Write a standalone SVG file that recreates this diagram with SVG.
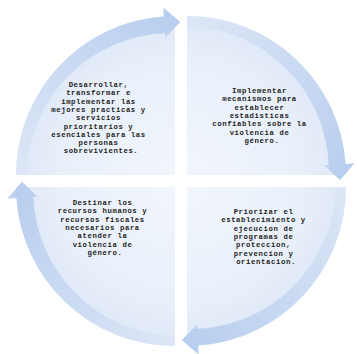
<svg xmlns="http://www.w3.org/2000/svg" xmlns:xlink="http://www.w3.org/1999/xlink" width="357" height="354" viewBox="0 0 357 354">
<style>
.lbl{font-family:"Liberation Mono","DejaVu Sans Mono",monospace;font-size:7.3px;font-weight:bold;letter-spacing:0.6px;fill:#1e1e1e;text-anchor:middle}
.wedge{fill:url(#wedgeFill)}
.band{fill:url(#bandFill)}
</style>
<defs>
<radialGradient id="wedgeFill" gradientUnits="userSpaceOnUse" cx="181" cy="181" r="160">
<stop offset="0" stop-color="#f2f6fc"/>
<stop offset="0.75" stop-color="#e9f0fa"/>
<stop offset="1" stop-color="#dfe8f7"/>
</radialGradient>
<linearGradient id="bandFill" gradientUnits="userSpaceOnUse" x1="20" y1="175" x2="170" y2="20">
<stop offset="0" stop-color="#dce6f6"/>
<stop offset="1" stop-color="#b9cfef"/>
</linearGradient>
<path id="wedgeShape" class="wedge" d="M175,175 L16,175 A159,159 0 0 1 175,16 Z"/>
<path id="bandShape" class="band" d="M16,175 A159,159 0 0 1 163.9,16.4 L163.3,7.4 L180.3,22.1 L165.4,37.3 L165.1,33.35 A143,143 0 0 0 113.7,45 A145,145 0 0 0 69.5,74.8 A147,147 0 0 0 38.7,119.2 A148,148 0 0 0 26,175 Z"/>
</defs>
<rect width="357" height="354" fill="#ffffff"/>
<g id="node-tl">
<use xlink:href="#wedgeShape"/>
<text class="lbl">
<tspan x="101" y="87">Desarrollar,</tspan>
<tspan x="101" y="95.3">transformar e</tspan>
<tspan x="101" y="103.6">implementar las</tspan>
<tspan x="101" y="111.9">mejores practicas y</tspan>
<tspan x="101" y="120.2">servicios</tspan>
<tspan x="101" y="128.5">prioritarios y</tspan>
<tspan x="101" y="136.8">esenciales para las</tspan>
<tspan x="101" y="145.1">personas</tspan>
<tspan x="101" y="153.4">sobrevivientes.</tspan>
</text>
</g>
<g id="node-tr">
<use xlink:href="#wedgeShape" transform="rotate(90 181 181)"/>
<text class="lbl">
<tspan x="262" y="93">Implementar</tspan>
<tspan x="262" y="101.3">mecanismos para</tspan>
<tspan x="262" y="109.6">establecer</tspan>
<tspan x="262" y="117.9">estadisticas</tspan>
<tspan x="262" y="126.2">confiables sobre la</tspan>
<tspan x="262" y="134.5">violencia de</tspan>
<tspan x="262" y="142.8">género.</tspan>
</text>
</g>
<g id="node-br">
<use xlink:href="#wedgeShape" transform="rotate(180 181 181)"/>
<text class="lbl">
<tspan x="266" y="214">Priorizar el</tspan>
<tspan x="266" y="222.3">establecimiento y</tspan>
<tspan x="266" y="230.6">ejecucion de</tspan>
<tspan x="266" y="238.9">programas de</tspan>
<tspan x="266" y="247.2">proteccion,</tspan>
<tspan x="266" y="255.5">prevencion y</tspan>
<tspan x="266" y="263.8">orientacion.</tspan>
</text>
</g>
<g id="node-bl">
<use xlink:href="#wedgeShape" transform="rotate(270 181 181)"/>
<text class="lbl">
<tspan x="105" y="205">Destinar los</tspan>
<tspan x="105" y="213.3">recursos humanos y</tspan>
<tspan x="105" y="221.6">recursos fiscales</tspan>
<tspan x="105" y="229.9">necesarios para</tspan>
<tspan x="105" y="238.2">atender la</tspan>
<tspan x="105" y="246.5">violencia de</tspan>
<tspan x="105" y="254.8">género.</tspan>
</text>
</g>
<g id="connectors">
<use xlink:href="#bandShape"/>
<use xlink:href="#bandShape" transform="rotate(90 181 181)"/>
<use xlink:href="#bandShape" transform="rotate(180 181 181)"/>
<use xlink:href="#bandShape" transform="rotate(270 181 181)"/>
</g>
</svg>
